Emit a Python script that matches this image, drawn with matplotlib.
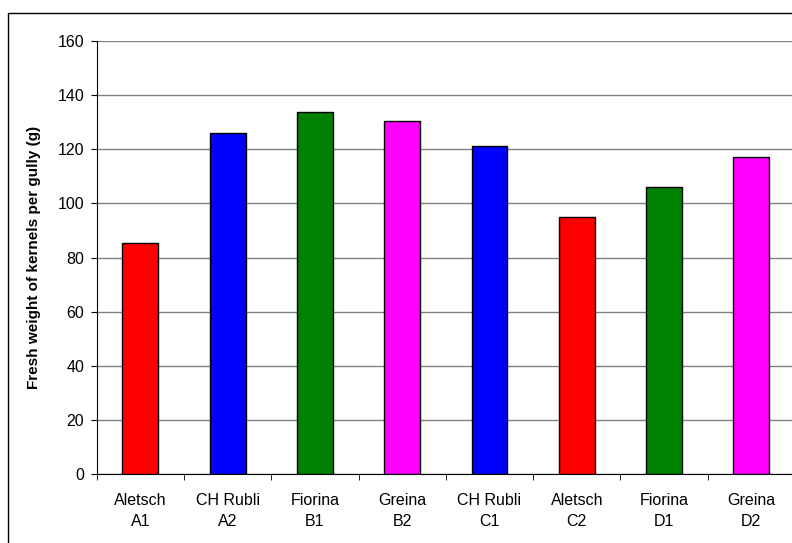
import numpy as np
from matplotlib import pyplot as plt
from matplotlib.patches import Rectangle

plt.rcParams['font.family'] = ['Liberation Sans', 'DejaVu Sans']

varieties = ["Aletsch", "CH Rubli", "Fiorina", "Greina", "CH Rubli", "Aletsch", "Fiorina", "Greina"]
plots = ["A1", "A2", "B1", "B2", "C1", "C2", "D1", "D2"]
weights = [85.5, 126.1, 133.9, 130.6, 121.1, 95.1, 106.1, 117.3]
bar_colors = ["#FF0000", "#0000FF", "#008000", "#FF00FF", "#0000FF", "#FF0000", "#008000", "#FF00FF"]

fig = plt.figure(figsize=(7.92, 5.43), dpi=100)

# outer chart border (runs off the right and bottom edges like in the original)
fig.patches.append(Rectangle((8 / 792, -0.05), 1.1, 1.05 - 13 / 543, transform=fig.transFigure,
                             fill=False, edgecolor='black', linewidth=1.0))

ax = fig.add_axes([96.7 / 792, 1 - 474 / 543, (795 - 96.7) / 792, (474 - 41) / 543])

x = np.arange(len(weights))
ax.bar(x, weights, width=0.41, color=bar_colors, edgecolor='black', linewidth=1.0, zorder=3)

ax.set_xlim(-0.5, len(weights) - 0.5)
ax.set_ylim(0, 160)
ax.set_yticks(np.arange(0, 161, 20))
ax.yaxis.grid(True, color='#808080', linewidth=1.0, zorder=0)
ax.set_axisbelow(True)

ax.set_xticks(x)
ax.set_xticklabels([f"{v}\n{p}" for v, p in zip(varieties, plots)], linespacing=1.45)
ax.set_xticks(np.arange(-0.5, len(weights) - 0.5, 1), minor=True)
ax.tick_params(axis='x', which='major', length=0, pad=14, labelsize=11.5)
ax.tick_params(axis='x', which='minor', length=4, direction='out', color='black')
ax.tick_params(axis='y', length=4, pad=5, labelsize=11.5)

for side in ['top', 'right']:
    ax.spines[side].set_visible(False)
ax.spines['left'].set_color('black')
ax.spines['bottom'].set_color('black')

ax.set_ylabel("Fresh weight of kernels per gully (g)", fontsize=11, fontweight='bold', labelpad=12)

fig.savefig("out.png", dpi=100)
